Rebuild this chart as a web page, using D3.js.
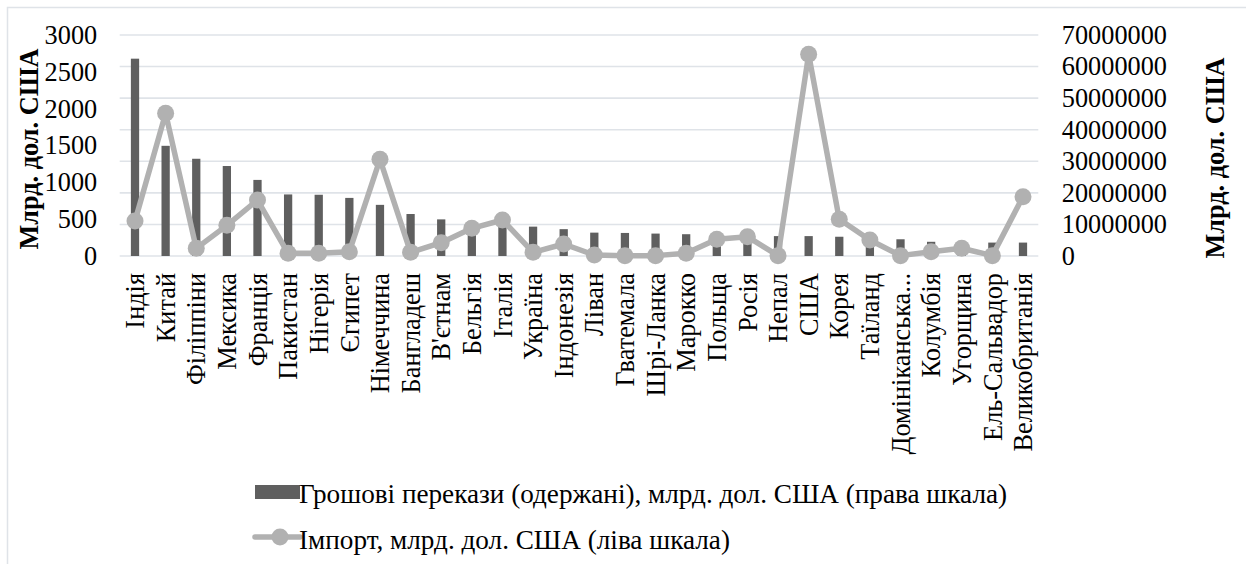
<!DOCTYPE html>
<html><head><meta charset="utf-8">
<script src="https://cdn.jsdelivr.net/npm/d3@7"></script>
</head>
<body style="margin:0;background:#fff">
<svg id="chart" width="1246" height="564" style="display:block"></svg>
<script>
const categories = ["Індія","Китай","Філіппіни","Мексика","Франція","Пакистан","Нігерія","Єгипет","Німеччина","Бангладеш","В'єтнам","Бельгія","Італія","Україна","Індонезія","Ліван","Гватемала","Шрі-Ланка","Марокко","Польща","Росія","Непал","США","Корея","Таїланд","Домініканська...","Колумбія","Угорщина","Ель-Сальвадор","Великобританія"];
// bars: remittances received (right scale)
const remittances = [62500000,34900000,30800000,28500000,24100000,19500000,19400000,18400000,16200000,13300000,11600000,11000000,10000000,9300000,8500000,7400000,7300000,7100000,6900000,6900000,6800000,6300000,6300000,6100000,6000000,5300000,4500000,4400000,4250000,4250000];
// line: imports (left scale)
const imports = [475,1937,104,416,760,37,37,58,1312,50,181,376,489,50,163,14,5,5,37,227,262,5,2738,498,217,5,58,105,5,805];
const leftTicks = [0,500,1000,1500,2000,2500,3000];
const rightTicks = [0,10000000,20000000,30000000,40000000,50000000,60000000,70000000];
const axisTitle = "Млрд. дол. США";
const legendBars = "Грошові перекази (одержані), млрд. дол. США (права шкала)";
const legendLine = "Імпорт, млрд. дол. США (ліва шкала)";

const FONT = "Liberation Serif";
const svg = d3.select("#chart");
const FS = 26.3, FSL = 27.2;
const plot = {left:119.7, right:1038.3, top:35, bottom:256};
const barColor = "#5f5f5f", lineColor = "#b1b1b1", gridColor = "#dfe3e8";

svg.append("rect").attr("x",7.5).attr("y",7.5).attr("width",1300).attr("height",700)
  .attr("fill","none").attr("stroke",gridColor).attr("stroke-width",1.5);

const x = d3.scaleBand().domain(categories).range([plot.left, plot.right]).padding(0);
const yR = d3.scaleLinear().domain([0,70000000]).range([plot.bottom, plot.top]);
const yL = d3.scaleLinear().domain([0,3000]).range([plot.bottom, plot.top]);
const cx = d => x(d) + x.bandwidth()/2;

svg.append("g").selectAll("line").data(rightTicks).join("line")
  .attr("x1",plot.left).attr("x2",plot.right)
  .attr("y1",d=>yR(d)).attr("y2",d=>yR(d))
  .attr("stroke",gridColor).attr("stroke-width",1.6);

const gL = svg.append("g").attr("transform",`translate(${plot.left-22.5},0)`)
  .call(d3.axisLeft(yL).tickValues(leftTicks).tickSize(0).tickPadding(0).tickFormat(d3.format("d")));
const gR = svg.append("g").attr("transform",`translate(${plot.right+23.5},0)`)
  .call(d3.axisRight(yR).tickValues(rightTicks).tickSize(0).tickPadding(0).tickFormat(d3.format("d")));
[gL,gR].forEach(g=>{
  g.attr("font-family",FONT).attr("font-size",FS);
  g.select(".domain").remove();
  g.selectAll("text").attr("fill","#000");
});

const bw = x.bandwidth()*0.27;
svg.append("g").selectAll("rect").data(categories).join("rect")
  .attr("x",(d)=>cx(d)-bw/2).attr("width",bw)
  .attr("y",(d,i)=>yR(remittances[i])).attr("height",(d,i)=>plot.bottom-yR(remittances[i]))
  .attr("fill",barColor);

const line = d3.line().x((d,i)=>cx(categories[i])).y(d=>yL(d));
svg.append("path").datum(imports).attr("d",line)
  .attr("fill","none").attr("stroke",lineColor).attr("stroke-width",5.5).attr("stroke-linejoin","round");
svg.append("g").selectAll("circle").data(imports).join("circle")
  .attr("cx",(d,i)=>cx(categories[i])).attr("cy",d=>yL(d)).attr("r",8.5).attr("fill",lineColor);

svg.append("g").attr("font-family",FONT).attr("font-size",FS).selectAll("text").data(categories).join("text")
  .attr("transform",d=>`translate(${cx(d)+0.5},${plot.bottom+17}) rotate(-90)`)
  .attr("text-anchor","end").attr("dy","0.33em").text(d=>d);

svg.append("text").attr("transform",`translate(38,149) rotate(-90)`)
  .attr("text-anchor","middle").attr("font-family",FONT).attr("font-size",FS).attr("font-weight","bold").text(axisTitle);
svg.append("text").attr("transform",`translate(1224,158) rotate(-90)`)
  .attr("text-anchor","middle").attr("font-family",FONT).attr("font-size",FS).attr("font-weight","bold").text(axisTitle);

const lg = svg.append("g").attr("font-family",FONT).attr("font-size",FSL);
lg.append("rect").attr("x",255).attr("y",485).attr("width",45).attr("height",14).attr("fill",barColor);
lg.append("text").attr("x",299).attr("y",493).attr("dy","0.35em").text(legendBars);
lg.append("line").attr("x1",255).attr("x2",300).attr("y1",537).attr("y2",537)
  .attr("stroke",lineColor).attr("stroke-width",5.5).attr("stroke-linecap","round");
lg.append("circle").attr("cx",280).attr("cy",537).attr("r",8.5).attr("fill",lineColor);
lg.append("text").attr("x",299).attr("y",539).attr("dy","0.35em").text(legendLine);
</script>
</body></html>
